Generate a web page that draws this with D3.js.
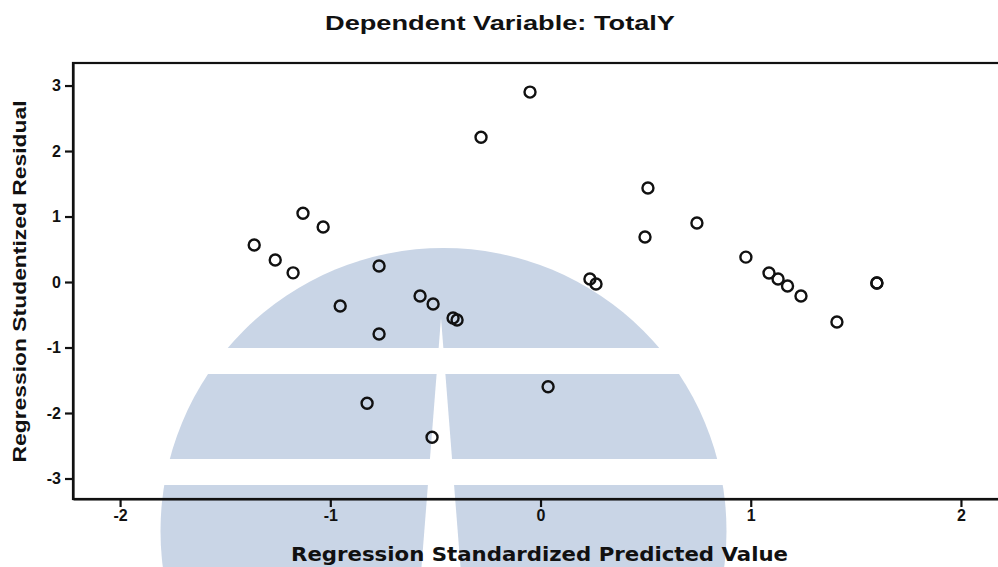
<!DOCTYPE html>
<html>
<head>
<meta charset="utf-8">
<script src="https://cdn.jsdelivr.net/npm/d3@7"></script>
<style>
  html, body { margin: 0; padding: 0; background: #fff; }
  svg { display: block; }
  .axis text { font-family: 'Liberation Sans', Arial, sans-serif; font-weight: bold; font-size: 16px; fill: #111; }
</style>
</head>
<body>
<svg id="chart" width="998" height="567"></svg>
<script>
// Scatterplot of studentized residuals against standardized predicted values
const titleText = "Dependent Variable: TotalY";
const xAxisTitle = "Regression Standardized Predicted Value";
const yAxisTitle = "Regression Studentized Residual";

const xTicks = [-2, -1, 0, 1, 2];
const yTicks = [-3, -2, -1, 0, 1, 2, 3];

// Standardized predicted value for each case
const predicted = [
  -1.362, -1.262, -1.177, -1.130, -1.034, -0.953, -0.768, -0.768,
  -0.573, -0.511, -0.416, -0.397, -0.825, -0.516, 0.036, -0.283,
  -0.050, 0.235, 0.264, 0.497, 0.511, 0.744, 0.977, 1.087,
  1.130, 1.175, 1.239, 1.410, 1.600, 1.600
];
// Studentized residual for each case
const residual = [
  0.565, 0.336, 0.140, 1.050, 0.840, -0.366, 0.244, -0.794,
  -0.214, -0.336, -0.550, -0.580, -1.850, -2.370, -1.600, 2.210,
  2.900, 0.046, -0.030, 0.687, 1.435, 0.900, 0.380, 0.137,
  0.046, -0.060, -0.214, -0.610, -0.015, -0.015
];

const svg = d3.select("#chart");

const plot = { left: 73, top: 63, right: 1003, bottom: 499 };

const x = d3.scaleLinear().domain([-2.224, 2.2]).range([plot.left, plot.right]);
const y = d3.scaleLinear().domain([-3.313, 3.344]).range([plot.bottom, plot.top]);

// Pale emblem behind the plot: a dome cut by two horizontal bands and a tapering vertical slit
const emblem = { cx: 443.5, cy: 531, r: 283, fill: "#c9d5e6" };
const defs = svg.append("defs");
const clip = defs.append("clipPath").attr("id", "emblemCut");
const bands = [[248, 348], [374, 459], [485, 567]];
bands.forEach(([y0, y1]) => {
  clip.append("rect")
    .attr("x", emblem.cx - emblem.r - 2).attr("y", y0)
    .attr("width", 2 * emblem.r + 4).attr("height", y1 - y0);
});
const emblemG = svg.append("g").attr("clip-path", "url(#emblemCut)");
emblemG.append("circle")
  .attr("cx", emblem.cx).attr("cy", emblem.cy).attr("r", emblem.r)
  .attr("fill", emblem.fill);
emblemG.append("rect")
  .attr("x", emblem.cx - emblem.r + 3).attr("y", emblem.cy)
  .attr("width", 2 * emblem.r - 6).attr("height", 567 - emblem.cy)
  .attr("fill", emblem.fill);
// slit
const slitX = 441, slitTop = 318, slitHalf = 19.5;
emblemG.append("path")
  .attr("d", `M${slitX},${slitTop} L${slitX + slitHalf},567 L${slitX - slitHalf},567 Z`)
  .attr("fill", "#fff");

// Plot frame
svg.append("rect")
  .attr("x", plot.left).attr("y", plot.top)
  .attr("width", plot.right - plot.left).attr("height", plot.bottom - plot.top)
  .attr("fill", "none").attr("stroke", "#111").attr("stroke-width", 2.2);

// Axes
const fmt = d => String(d);
const xAxis = svg.append("g")
  .attr("class", "axis")
  .attr("transform", `translate(0,${plot.bottom})`)
  .call(d3.axisBottom(x).tickValues(xTicks).tickFormat(fmt).tickSize(8).tickSizeOuter(0).tickPadding(3));
const yAxis = svg.append("g")
  .attr("class", "axis")
  .attr("transform", `translate(${plot.left},0)`)
  .call(d3.axisLeft(y).tickValues(yTicks).tickFormat(fmt).tickSize(8).tickSizeOuter(0).tickPadding(4));

[xAxis, yAxis].forEach(g => {
  g.attr("font-size", 16).attr("font-family", null);
  g.select(".domain").attr("stroke", "#111").attr("stroke-width", 2.2);
  g.selectAll(".tick line").attr("stroke", "#111").attr("stroke-width", 2.2);
});

// Data points
svg.append("g")
  .selectAll("circle")
  .data(predicted.map((p, i) => ({ p, r: residual[i] })))
  .join("circle")
  .attr("cx", d => x(d.p))
  .attr("cy", d => y(d.r))
  .attr("r", 5.5)
  .attr("fill", "none")
  .attr("stroke", "#111")
  .attr("stroke-width", 2.4);

// Titles
svg.append("text")
  .attr("x", 500).attr("y", 30)
  .attr("text-anchor", "middle")
  .attr("textLength", 350).attr("lengthAdjust", "spacingAndGlyphs")
  .style("font-family", "'Liberation Sans', Arial, sans-serif")
  .style("font-weight", "bold").style("font-size", "20px")
  .attr("fill", "#111")
  .text(titleText);

svg.append("text")
  .attr("x", 539.5).attr("y", 561)
  .attr("text-anchor", "middle")
  .attr("textLength", 497).attr("lengthAdjust", "spacingAndGlyphs")
  .style("font-family", "'DejaVu Sans', Verdana, sans-serif")
  .style("font-weight", "bold").style("font-size", "20px")
  .attr("fill", "#111")
  .text(xAxisTitle);

svg.append("text")
  .attr("transform", "translate(26,281.5) rotate(-90)")
  .attr("text-anchor", "middle")
  .attr("textLength", 362).attr("lengthAdjust", "spacingAndGlyphs")
  .style("font-family", "'Liberation Sans', Arial, sans-serif")
  .style("font-weight", "bold").style("font-size", "18px")
  .attr("fill", "#111")
  .text(yAxisTitle);
</script>
</body>
</html>
